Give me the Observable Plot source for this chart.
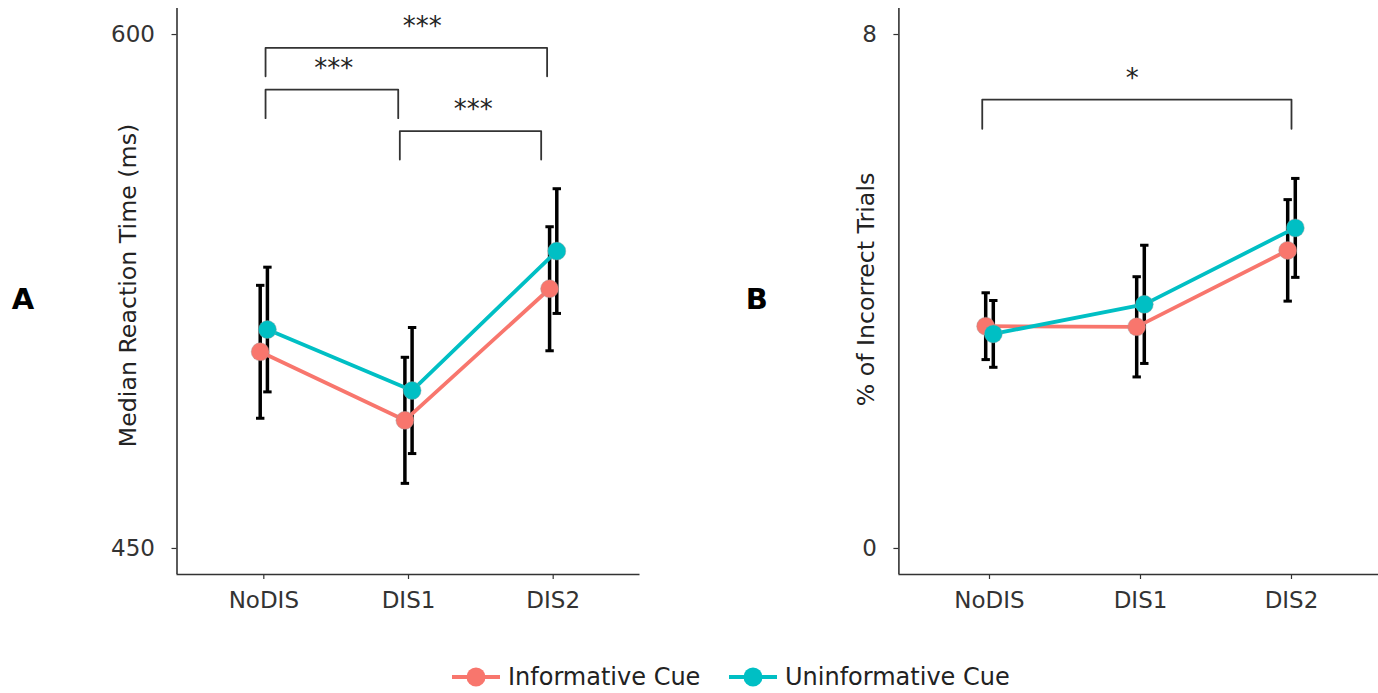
<!DOCTYPE html>
<html>
<head>
<meta charset="utf-8">
<script src="https://cdn.jsdelivr.net/npm/d3@7"></script>
<script src="https://cdn.jsdelivr.net/npm/@observablehq/plot@0.6"></script>
<style>
  html, body { margin: 0; padding: 0; background: #fff; }
  #wrap { position: relative; width: 1378px; height: 693px; overflow: hidden; font-family: "DejaVu Sans", sans-serif; }
  #panelA { position: absolute; left: 0; top: 0; width: 689px; }
  #panelB { position: absolute; left: 689px; top: 0; width: 700px; }
  #wrap svg { max-width: none !important; }
  #legend { position: absolute; left: 0; top: 660px; width: 1378px; height: 34px; }
  .key { position: absolute; top: 0; display: flex; align-items: center; height: 34px; font-size: 24px; color: #222; white-space: nowrap; }
  .key svg { margin-right: 8px; }
</style>
</head>
<body>
<div id="wrap">
  <div id="panelA"></div>
  <div id="panelB"></div>
  <div id="legend"></div>
</div>
<script>
// ---------- data ----------
const conditions = ["NoDIS", "DIS1", "DIS2"];
const cues = ["Informative Cue", "Uninformative Cue"];
const cueColors = ["#F8766D", "#00BFC4"];

// Panel A: median reaction time (ms), mean and error half-width
const rtInformative = [507.4, 487.4, 525.8];
const rtInformativeErr = [19.4, 18.4, 18.1];
const rtUninformative = [513.9, 496.1, 536.8];
const rtUninformativeErr = [18.2, 18.4, 18.2];

// Panel B: % incorrect trials
const pcInformative = [3.46, 3.45, 4.64];
const pcInformativeErr = [0.52, 0.78, 0.79];
const pcUninformative = [3.34, 3.80, 4.99];
const pcUninformativeErr = [0.52, 0.92, 0.77];

// axis ticks
const rtTicks = [450, 600];
const pcTicks = [0, 8];

// significance brackets (x in condition units, 1 = NoDIS)
const rtBracketStart = [1.012, 1.012, 1.94];
const rtBracketEnd = [2.958, 1.929, 2.917];
const rtBracketTop = [596.1, 583.9, 571.8];
const rtBracketTip = [587.8, 575.6, 563.5];
const rtBracketLabelX = [2.095, 1.484, 2.447];
const rtBracketLabel = ["***", "***", "***"];

const pcBracketStart = [0.952];
const pcBracketEnd = [3.0];
const pcBracketTop = [6.988];
const pcBracketTip = [6.532];
const pcBracketLabelX = [1.945];
const pcBracketLabel = ["*"];

// ---------- helpers ----------
function rowsFor(values, errs) {
  return conditions.map((c, i) => ({cond: c, xi: i + 1, v: values[i], lo: values[i] - errs[i], hi: values[i] + errs[i]}));
}
function bracketPaths(start, end, top, tip) {
  const out = [];
  start.forEach((s, i) => {
    out.push({id: i, x: s, y: tip[i]});
    out.push({id: i, x: s, y: top[i]});
    out.push({id: i, x: end[i], y: top[i]});
    out.push({id: i, x: end[i], y: tip[i]});
  });
  return out;
}
const capSymbol = {
  draw(context, size) {
    const w = Math.sqrt(size / Math.PI);
    context.moveTo(-w, 0);
    context.lineTo(w, 0);
  }
};

function seriesMarks(rows, color, dodge) {
  return [
    Plot.ruleX(rows, {x: "xi", y1: "lo", y2: "hi", dx: dodge, stroke: "#000", strokeWidth: 3.5}),
    Plot.dot(rows, {x: "xi", y: "hi", dx: dodge, symbol: capSymbol, r: 4.2, stroke: "#000", strokeWidth: 3, fill: "none"}),
    Plot.dot(rows, {x: "xi", y: "lo", dx: dodge, symbol: capSymbol, r: 4.2, stroke: "#000", strokeWidth: 3, fill: "none"})
  ];
}
function lineMarks(rows, color, dodge) {
  return [
    Plot.line(rows, {x: "xi", y: "v", dx: dodge, stroke: color, strokeWidth: 3.8}),
    Plot.dot(rows, {x: "xi", y: "v", dx: dodge, r: 9, fill: color, stroke: "#999", strokeWidth: 0.4})
  ];
}

function panel(opts) {
  const inf = rowsFor(opts.inf, opts.infErr);
  const uni = rowsFor(opts.uni, opts.uniErr);
  const br = bracketPaths(opts.bStart, opts.bEnd, opts.bTop, opts.bTip);
  const brLabels = opts.bLabel.map((t, i) => ({x: opts.bLabelX[i], y: opts.bTop[i], t}));
  return Plot.plot({
    width: opts.width,
    height: 640,
    marginLeft: opts.marginLeft,
    marginRight: opts.marginRight,
    marginTop: 8,
    marginBottom: 66,
    style: {fontFamily: "DejaVu Sans, sans-serif", fontSize: "23px", color: "#333", background: "transparent", overflow: "visible"},
    x: {domain: [0.4, 3.6], axis: null},
    y: {domain: opts.yDomain, axis: null},
    marks: [
      Plot.axisX({ticks: [1, 2, 3], tickFormat: d => conditions[d - 1], tickSize: 5, tickPadding: 12, stroke: "#333", strokeWidth: 1.2, fill: "#333", fontSize: 23, label: null}),
      Plot.axisY({ticks: opts.yTicks, tickSize: 5, tickPadding: 17, stroke: "#333", strokeWidth: 1.2, fill: "#333", fontSize: 23, label: null}),
      Plot.ruleX([0.4], {stroke: "#333", strokeWidth: 1.6}),
      Plot.ruleY([opts.yDomain[0]], {stroke: "#333", strokeWidth: 1.6}),
      Plot.line(br, {x: "x", y: "y", z: "id", stroke: "#333", strokeWidth: 1.8}),
      Plot.text(brLabels, {x: "x", y: "y", text: "t", dy: -21, fontSize: 26, fill: "#222", lineAnchor: "middle"}),
      ...seriesMarks(inf, cueColors[0], -opts.dodge),
      ...seriesMarks(uni, cueColors[1], opts.dodge),
      ...lineMarks(inf, cueColors[0], -opts.dodge),
      ...lineMarks(uni, cueColors[1], opts.dodge),
      Plot.text([opts.yLabel], {frameAnchor: "left", dx: opts.yLabelDx, dy: opts.yLabelDy, rotate: -90, textAnchor: "middle", fontSize: 23.7, fill: "#222"}),
      Plot.text([opts.tag], {frameAnchor: "left", dx: opts.tagDx, dy: 8, fontSize: 29, fontWeight: "bold", fill: "#000", textAnchor: "middle"})
    ]
  });
}

const plotA = panel({
  width: 689, marginLeft: 176.5, marginRight: 49.5,
  yDomain: [442.4, 607.6], yTicks: rtTicks,
  inf: rtInformative, infErr: rtInformativeErr, uni: rtUninformative, uniErr: rtUninformativeErr,
  bStart: rtBracketStart, bEnd: rtBracketEnd, bTop: rtBracketTop, bTip: rtBracketTip, bLabel: rtBracketLabel, bLabelX: rtBracketLabelX,
  dodge: 3.6, yLabel: "Median Reaction Time (ms)", yLabelDx: -49, yLabelDy: -6, tag: "A", tagDx: -154
});
const plotB = panel({
  width: 692.6, marginLeft: 209.4, marginRight: 0,
  yDomain: [-0.405, 8.405], yTicks: pcTicks,
  inf: pcInformative, infErr: pcInformativeErr, uni: pcUninformative, uniErr: pcUninformativeErr,
  bStart: pcBracketStart, bEnd: pcBracketEnd, bTop: pcBracketTop, bTip: pcBracketTip, bLabel: pcBracketLabel, bLabelX: pcBracketLabelX,
  dodge: 3.8, yLabel: "% of Incorrect Trials", yLabelDx: -32, yLabelDy: -2, tag: "B", tagDx: -142
});
document.getElementById("panelA").appendChild(plotA);
document.getElementById("panelB").appendChild(plotB);

// ---------- legend ----------
const legend = document.getElementById("legend");
const keyLeft = [452, 729];
cues.forEach((name, i) => {
  const div = document.createElement("div");
  div.className = "key";
  div.style.left = keyLeft[i] + "px";
  div.innerHTML = `<svg width="48" height="24"><line x1="0" y1="12" x2="48" y2="12" stroke="${cueColors[i]}" stroke-width="4"/><circle cx="24" cy="12" r="9.5" fill="${cueColors[i]}"/></svg><span>${name}</span>`;
  legend.appendChild(div);
});
</script>
</body>
</html>
